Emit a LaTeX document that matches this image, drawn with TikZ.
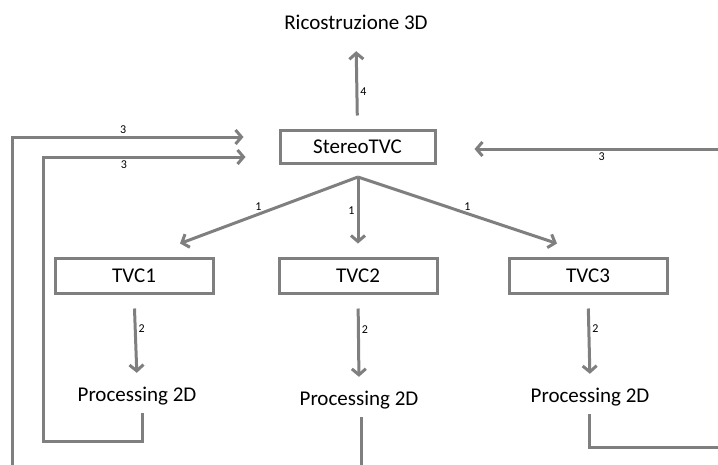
\documentclass[tikz,border=0pt]{standalone}
\usepackage{fontspec}
\setmainfont{Carlito}
\usetikzlibrary{arrows.meta, positioning, calc}

\definecolor{linegray}{RGB}{127,127,127}

\tikzset{
  box/.style={draw=linegray, line width=3pt, minimum width=155pt, minimum height=33pt,
    inner sep=0pt, font=\fontsize{21}{25}\selectfont},
  proc/.style={inner sep=0pt, minimum height=34pt, font=\fontsize{21}{25}\selectfont},
  flow/.style={draw=linegray, line width=3pt,
    -{Straight Barb[length=6pt, width=14pt]}},
  num/.style={font=\fontsize{12}{14}\selectfont, inner sep=2pt},
}

\begin{document}
\begin{tikzpicture}[x=1pt, y=-1pt]
                \clip (0,0) rectangle (718,464);

                % top level
                \node[proc, minimum height=30pt] (ric) at (356,22) {Ricostruzione 3D};
                \node[box] (stereo) at (357.5,146.5) {StereoTVC};

                % single cameras
                \node[box, minimum width=158pt, minimum height=35pt] (tvc1) at (134,275.5) {TVC1};
                \node[box, minimum width=158pt, minimum height=35pt] (tvc2) at (358,275.5) {TVC2};
                \node[box, minimum width=158pt, minimum height=35pt] (tvc3) at (588,275.5) {TVC3};

                \node[proc] (proc1) at (137,396) {Processing 2D};
                \node[proc] (proc2) at (359,400) {Processing 2D};
                \node[proc] (proc3) at (590,397) {Processing 2D};

                \coordinate (split) at (358,177);
                \coordinate (lin) at (43,441);
                \coordinate (lout) at (12,472);
                \coordinate (rout) at (724,447);

                % 4: up to the reconstruction
                \draw[flow, shorten <=13pt, shorten >=14pt] (stereo.north) -- node[num, right, pos=0.4] {4} (ric.south);

                % 1: split to the cameras
                \draw[flow] (split) -- node[num, above, pos=0.56] {1} ([xshift=46pt, yshift=13pt]tvc1.north);
                \draw[flow] (split) -- node[num, left, pos=0.5] {1} ([yshift=13pt]tvc2.north);
                \draw[flow] (split) -- node[num, above, pos=0.55] {1} ([xshift=-31pt, yshift=13pt]tvc3.north);

                % 2: cameras to processing
                \foreach \i in {1,2,3}
                  \draw[flow, shorten <=14pt, shorten >=6pt] (tvc\i.south) -- node[num, right, pos=0.4] {2} (proc\i.north);

                % 3: back to StereoTVC
                \draw[flow] ([xshift=5pt]proc1.south) |- (lin)
                  |- node[num, below, pos=0.70] {3} ([xshift=-33pt, yshift=-10.5pt]stereo.west);
                \draw[flow] ([xshift=2pt]proc2.south) |- (lout)
                  |- node[num, above, pos=0.74] {3} ([xshift=-35pt, yshift=9.5pt]stereo.west);
                \draw[flow] ([xshift=-1pt]proc3.south) |- (rout)
                  |- node[num, below, pos=0.745] {3} ([xshift=38pt, yshift=-2.5pt]stereo.east);
            \end{tikzpicture}
\end{document}
